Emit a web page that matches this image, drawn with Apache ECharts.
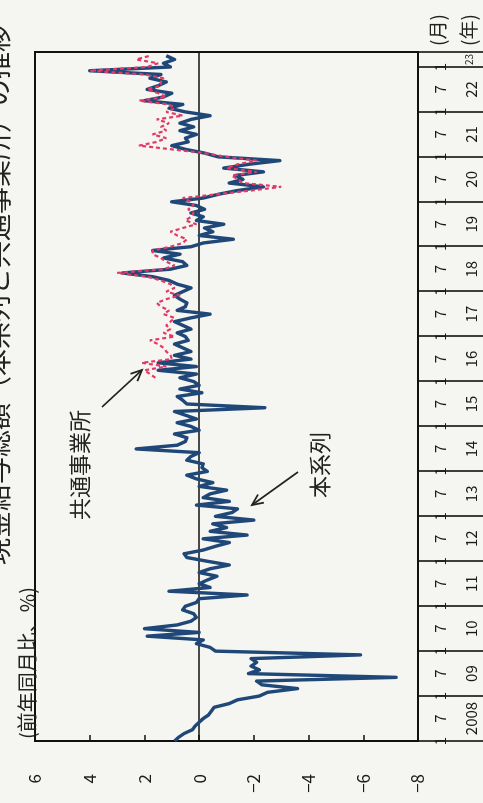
<!DOCTYPE html>
<html>
<head>
<meta charset="utf-8">
<script src="https://cdn.jsdelivr.net/npm/echarts/dist/echarts.min.js"></script>
<style>
  html, body { margin: 0; padding: 0; width: 483px; height: 803px; overflow: hidden; background: #f5f5f1; }
  #wrap { position: absolute; left: 0; top: 0; width: 803px; height: 483px;
          transform-origin: 0 0; transform: translate(0px, 803px) rotate(-90deg); }
  #chart { width: 803px; height: 483px; }
</style>
</head>
<body>
<div id="wrap"><div id="chart"></div></div>
<script>
// ---- data (monthly, index 0 = 2008-01) ----
const titleText = '現金給与総額（本系列と共通事業所）の推移';
const unitText = '(前年同月比、%)';
const seriesNames = ['本系列', '共通事業所'];
const yearLabels = ['2008','09','10','11','12','13','14','15','16','17','18','19','20','21','22','23'];
const monthTickLabels = ['1', '7'];

const blue2008 = [0.9, 0.75, 0.55, 0.25, 0.15, 0.0, -0.15, -0.35, -0.45, -0.55, -1.1, -1.4];
const blue2009 = [-2.2, -2.5, -3.6, -2.3, -2.1, -7.2, -1.8, -2.2, -1.9, -2.1, -1.9, -5.9];
const blue2010 = [-0.6, -0.4, 0.1, -0.15, 1.9, 0.0, 2.0, 0.8, 0.3, 0.1, 0.2, 0.6];
const blue2011 = [0.5, 0.1, 0.0, -1.75, 1.1, -0.4, 0.0, -0.3, -0.65, 0.0, -0.4, -1.1];
const blue2012 = [-0.3, 0.45, 0.55, -0.15, -0.6, -1.1, -0.15, -1.75, -0.4, -1.0, -0.5, -2.0];
const blue2013 = [-0.6, -1.2, -1.4, 0.1, -1.1, -0.15, -0.4, -1.0, 0.0, -0.5, 0.1, 0.45];
const blue2014 = [-0.3, -0.1, -0.15, 0.45, 0.3, 0.0, 2.3, 0.8, 0.5, 0.45, 0.9, 0.0];
const blue2015 = [0.3, 0.8, 0.1, 0.5, 0.9, -2.4, 0.45, 0.6, 0.8, -0.1, 0.7, 0.0];
const blue2016 = [0.2, 0.7, 0.1, 1.5, 0.1, 1.5, 0.3, 0.9, 0.3, 0.6, 0.9, 0.4];
const blue2017 = [0.5, 0.8, 0.3, 0.6, 0.9, 0.3, -0.4, 0.8, 0.5, 0.45, 0.7, 0.9];
const blue2018 = [0.6, 0.3, 0.8, 1.1, 1.7, 2.8, 1.05, 0.45, 0.6, 1.3, 0.7, 1.7];
const blue2019 = [0.3, -0.15, -1.25, 0.0, -0.5, -0.2, -0.9, 0.1, -0.15, 0.3, -0.2, 0.1];
const blue2020 = [1.0, -0.15, -0.7, -1.4, -2.35, -1.1, -1.6, -1.3, -2.35, -0.9, -1.8, -2.95];
const blue2021 = [-0.7, -0.2, 0.5, 1.0, 0.4, 0.5, 0.1, 0.7, 0.2, 0.7, 0.3, -0.4];
const blue2022 = [0.5, 1.1, 0.6, 2.0, 1.3, 1.0, 1.9, 1.5, 1.2, 1.8, 1.4, 4.0];
const blue2023 = [1.05, 1.3, 0.9, 1.2];

const redStartIndex = 97; // 2016-02
const red2016 = [1.6, 1.8, 2.0, 1.2, 2.1, 1.0, 1.05, 1.2, 1.3, 1.5, 1.8];
const red2017 = [0.9, 1.3, 1.05, 1.2, 1.05, 0.9, 1.3, 1.1, 1.4, 1.55, 1.2, 0.7];
const red2018 = [1.2, 0.9, 1.05, 1.4, 1.9, 3.0, 1.3, 0.9, 1.2, 1.4, 1.7, 1.7];
const red2019 = [1.05, 0.6, 0.45, 0.8, 1.05, 0.6, 0.1, 0.5, 0.3, 0.2, 0.4, 0.2];
const red2020 = [0.3, 0.6, -0.65, -1.9, -3.0, -1.6, -1.4, -1.2, -2.1, -1.0, -1.4, -2.1];
const red2021 = [-1.0, -0.2, 1.0, 2.2, 1.55, 1.2, 1.7, 1.2, 1.4, 1.1, 1.55, 0.6];
const red2022 = [1.2, 0.9, 1.1, 2.2, 1.2, 1.5, 1.9, 1.4, 1.4, 1.3, 2.0, 4.0];
const red2023 = [1.9, 1.5, 2.3, 1.8];

const blueValues = [].concat(blue2008, blue2009, blue2010, blue2011, blue2012, blue2013, blue2014,
  blue2015, blue2016, blue2017, blue2018, blue2019, blue2020, blue2021, blue2022, blue2023);
const redValues = [].concat(red2016, red2017, red2018, red2019, red2020, red2021, red2022, red2023);

const axisEnd = 184; // 2023-05 boundary
const FONT = '"Noto Sans CJK JP", "Noto Sans", sans-serif';

// axis helpers
const yearBounds = [];
for (let m = 0; m <= 180; m += 12) yearBounds.push(m);
yearBounds.push(axisEnd);
const monthLabelPos = [];
for (let m = 0; m <= 180; m += 6) monthLabelPos.push(m);
const yearCenters = [];
for (let i = 0; i < yearLabels.length; i++) {
  const s = i * 12, e = Math.min(s + 12, axisEnd);
  yearCenters.push((s + e) / 2);
}

const blueData = blueValues.map((v, i) => [i, v]);
const redData = redValues.map((v, i) => [redStartIndex + i, v]);

function arrow(tail, tip, len, half) {
  const dx = tip[0] - tail[0], dy = tip[1] - tail[1];
  const L = Math.hypot(dx, dy), ux = dx / L, uy = dy / L;
  const bx = tip[0] - ux * len, by = tip[1] - uy * len;
  const nx = -uy, ny = ux;
  const st = { stroke: '#222', lineWidth: 1.8, fill: null };
  return [
    { type: 'line', shape: { x1: tail[0], y1: tail[1], x2: tip[0], y2: tip[1] }, style: st },
    { type: 'polyline', shape: { points: [[bx + nx * half, by + ny * half], tip, [bx - nx * half, by - ny * half]] }, style: st }
  ];
}

const chart = echarts.init(document.getElementById('chart'), null, { renderer: 'canvas', width: 803, height: 483 });
chart.setOption({
  animation: false,
  backgroundColor: '#f5f5f1',
  textStyle: { fontFamily: FONT },
  grid: { left: 62, right: 52, top: 35, bottom: 65, show: true, borderColor: '#111', borderWidth: 2 },
  xAxis: [
    {
      type: 'value', min: 0, max: axisEnd, position: 'bottom',
      axisLine: { show: true, onZero: false, lineStyle: { color: '#111', width: 2 } },
      axisTick: { show: true, customValues: yearBounds, length: 65, inside: false, lineStyle: { color: '#111', width: 1.6 } },
      axisLabel: { show: true, customValues: monthLabelPos, margin: 15, fontSize: 15, color: '#1a1a1a', fontFamily: FONT,
        formatter: v => (Math.round(v) % 12 === 0 ? monthTickLabels[0] : monthTickLabels[1]) },
      splitLine: { show: false }
    },
    {
      type: 'value', min: 0, max: axisEnd, position: 'bottom', offset: 0,
      axisLine: { show: false, onZero: false }, axisTick: { show: false }, splitLine: { show: false },
      axisLabel: { show: true, customValues: yearCenters, margin: 46, fontSize: 15, color: '#1a1a1a', fontFamily: FONT,
        formatter: v => { const i = Math.floor(v / 12); return i === yearLabels.length - 1 ? '{s|' + yearLabels[i] + '}' : yearLabels[i]; },
        rich: { s: { fontSize: 10, fontFamily: FONT, color: '#1a1a1a' } } }
    }
  ],
  yAxis: {
    type: 'value', min: -8, max: 6, interval: 2,
    axisLine: { show: true, onZero: false, lineStyle: { color: '#111', width: 2 } },
    axisTick: { show: true, inside: true, length: 6, lineStyle: { color: '#111', width: 1.5 } },
    axisLabel: { margin: 33, fontSize: 17, color: '#1a1a1a', fontFamily: FONT, formatter: v => String(v).replace('-', '−') },
    splitLine: { show: false }
  },
  series: [
    {
      name: seriesNames[0], type: 'line', xAxisIndex: 0, data: blueData, showSymbol: false, symbol: 'none',
      lineStyle: { color: '#1f4878', width: 3.4, join: 'round' }, z: 3,
      markLine: { silent: true, symbol: 'none', label: { show: false }, lineStyle: { color: '#111', width: 1.5, type: 'solid' },
        data: [{ yAxis: 0 }], z: 2 }
    },
    {
      name: seriesNames[1], type: 'line', xAxisIndex: 0, data: redData, showSymbol: false, symbol: 'none',
      lineStyle: { color: '#e23a64', width: 2.2, type: [4, 3] }, z: 4
    }
  ],
  graphic: [
    { type: 'text', x: 238, y: -2, style: { text: titleText, fontSize: 27, fontFamily: FONT, fill: '#222', align: 'left', verticalAlign: 'middle' } },
    { type: 'text', x: 64, y: 27, style: { text: unitText, fontSize: 20, fontFamily: FONT, fill: '#222', align: 'left', verticalAlign: 'middle' } },
    { type: 'text', x: 757, y: 438, style: { text: '(月)', fontSize: 19, fontFamily: FONT, fill: '#222', align: 'left', verticalAlign: 'middle' } },
    { type: 'text', x: 757, y: 469, style: { text: '(年)', fontSize: 19, fontFamily: FONT, fill: '#222', align: 'left', verticalAlign: 'middle' } },
    { type: 'text', x: 283, y: 80, style: { text: seriesNames[1], fontSize: 22, fontFamily: FONT, fill: '#222', align: 'left', verticalAlign: 'middle' } },
    { type: 'text', x: 305, y: 320, style: { text: seriesNames[0], fontSize: 22, fontFamily: FONT, fill: '#222', align: 'left', verticalAlign: 'middle' } }
  ].concat(arrow([396, 102], [433, 142], 11, 5), arrow([331, 298], [298, 252], 11, 5))
});
</script>
</body>
</html>
